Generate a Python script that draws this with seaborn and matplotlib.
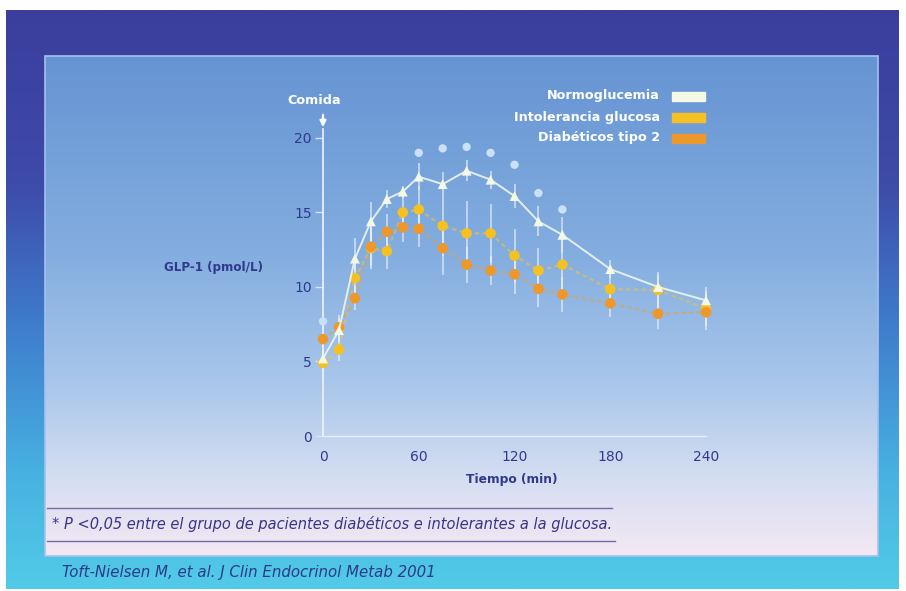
import numpy as np
import pandas as pd
import matplotlib
matplotlib.use("Agg")
import matplotlib.pyplot as plt
from matplotlib.colors import LinearSegmentedColormap
from matplotlib.patches import Rectangle
import seaborn as sns

# ---------------- data ----------------
time_min = [0, 10, 20, 30, 40, 50, 60, 75, 90, 105, 120, 135, 150, 180, 210, 240]
normo = [5.2, 7.1, 11.9, 14.4, 15.9, 16.4, 17.4, 16.9, 17.8, 17.2, 16.1, 14.4, 13.5, 11.2, 10.0, 9.1]
intol = [4.9, 5.8, 10.6, 12.6, 12.4, 15.0, 15.2, 14.1, 13.6, 13.6, 12.1, 11.1, 11.5, 9.85, 9.8, 8.55]
diab = [6.5, 7.3, 9.25, 12.7, 13.7, 14.0, 13.9, 12.6, 11.5, 11.1, 10.85, 9.87, 9.5, 8.9, 8.2, 8.3]
normo_err = [0.6, 0.8, 1.4, 1.3, 0.6, 0.4, 0.9, 0.8, 0.7, 0.6, 0.8, 1.0, 1.2, 0.6, 0.8, 0.9]
intol_err = [0.5, 0.8, 1.2, 1.4, 1.2, 1.3, 1.6, 2.0, 2.2, 2.0, 1.8, 1.5, 1.8, 1.2, 1.2, 1.2]
diab_err = [0.5, 0.8, 0.8, 1.3, 1.2, 1.0, 1.2, 1.8, 1.2, 1.0, 1.3, 1.2, 1.2, 0.9, 1.0, 1.2]
sig_time = [0, 60, 75, 90, 105, 120, 135, 150]
sig_val = [7.7, 19.0, 19.3, 19.4, 19.0, 18.2, 16.3, 15.2]

series_names = ["Normoglucemia", "Intolerancia glucosa", "Diabéticos tipo 2"]
x_ticks = [0, 60, 120, 180, 240]
y_ticks = [0, 5, 10, 15, 20]

df = pd.DataFrame({
    "t": time_min * 3,
    "v": normo + intol + diab,
    "e": normo_err + intol_err + diab_err,
    "grupo": [series_names[0]] * len(time_min) + [series_names[1]] * len(time_min)
             + [series_names[2]] * len(time_min),
})
sig_df = pd.DataFrame({"t": sig_time, "v": sig_val})

# ---------------- style ----------------
W, H = 906, 591
fig = plt.figure(figsize=(W / 100, H / 100), dpi=100)
fig.patch.set_facecolor("white")
plt.rcParams["font.family"] = ["DejaVu Sans"]

navy = "#2f3a8c"
col = {series_names[0]: "#f4f9e6", series_names[1]: "#f5c022", series_names[2]: "#ee982c"}

# background axes in pixel coordinates
bg = fig.add_axes([0, 0, 1, 1])
bg.set_xlim(0, W)
bg.set_ylim(H, 0)
bg.axis("off")

outer_cmap = LinearSegmentedColormap.from_list(
    "outer", [(0, "#3b3e9d"), (0.3, "#3d4ba9"), (0.55, "#3f7ecd"), (0.8, "#47b1e1"), (1, "#52cbe8")])
inner_cmap = LinearSegmentedColormap.from_list(
    "inner", [(0, "#6694d3"), (0.4, "#84aee0"), (0.65, "#a8c6ea"), (0.85, "#d6def2"), (1, "#f4e8f3")])
grad = np.linspace(0, 1, 256).reshape(-1, 1)
bg.imshow(grad, cmap=outer_cmap, extent=(6, 899, 589, 10), aspect="auto", origin="upper", zorder=0)
bg.imshow(grad, cmap=inner_cmap, extent=(45, 878, 556, 56), aspect="auto", origin="upper", zorder=1)
bg.add_patch(Rectangle((45, 56), 833, 500, fill=False, ec="#a8c0ec", lw=1.2, zorder=2))

# footnote lines & texts
bg.plot([47, 612], [508, 508], color="#6f6aa6", lw=1, zorder=3)
bg.plot([47, 615], [541, 541], color="#6f6aa6", lw=1, zorder=3)
bg.text(52, 524, "* P <0,05 entre el grupo de pacientes diabéticos e intolerantes a la glucosa.",
        ha="left", va="center", fontsize=10.5, style="italic", color="#3a3483", zorder=3)
bg.text(62, 572, "Toft-Nielsen M, et al. J Clin Endocrinol Metab 2001",
        ha="left", va="center", fontsize=10.8, style="italic", color="#2c3a88", zorder=3)

# axis labels
bg.text(213, 268, "GLP-1 (pmol/L)", ha="center", va="center", fontsize=8.6, color=navy,
        fontweight="bold", zorder=3)
bg.text(512, 480, "Tiempo (min)", ha="center", va="center", fontsize=8.8, color=navy,
        fontweight="bold", zorder=3)
bg.text(314, 100, "Comida", ha="center", va="center", fontsize=9.2, color="white",
        fontweight="bold", zorder=3)
bg.annotate("", xy=(323, 130), xytext=(323, 112),
            arrowprops=dict(arrowstyle="-|>", color="white", lw=1.6, mutation_scale=9), zorder=3)

# legend (manual)
leg_y = [96, 117, 138]
for name, yy in zip(series_names, leg_y):
    bg.text(660, yy, name, ha="right", va="center", fontsize=9.2, color="white",
            fontweight="bold", zorder=3)
    bg.add_patch(Rectangle((672, yy - 4.5), 33, 9, color=col[name], zorder=3))

# ---------------- main axes ----------------
ax = fig.add_axes([323 / W, (H - 436) / H, 383 / W, (436 - 129) / H])
ax.patch.set_alpha(0)
ax.set_xlim(0, 240)
ax.set_ylim(0, 20.6)

# error bars
for name in series_names[::-1]:
    d = df[df.grupo == name]
    ax.errorbar(d.t, d.v, yerr=d.e, fmt="none", ecolor="#eef4fb", elinewidth=1.1,
                alpha=0.75, capsize=0, zorder=4, clip_on=False)

# connecting lines
sns.lineplot(data=df[df.grupo == series_names[1]], x="t", y="v", ax=ax, color="#f3c340",
             lw=1.6, alpha=0.55, linestyle=(0, (2, 1.5)), zorder=5, legend=False)
sns.lineplot(data=df[df.grupo == series_names[2]], x="t", y="v", ax=ax, color="#ef9d3a",
             lw=1.6, alpha=0.55, linestyle=(0, (2, 1.5)), zorder=5, legend=False)
sns.lineplot(data=df[df.grupo == series_names[0]], x="t", y="v", ax=ax, color="#eef6ee",
             lw=1.4, alpha=0.9, zorder=8, legend=False)

# markers
sns.scatterplot(data=df[df.grupo == series_names[1]], x="t", y="v", ax=ax, color=col[series_names[1]],
                s=58, marker="o", edgecolor="none", zorder=6, legend=False, clip_on=False)
sns.scatterplot(data=df[df.grupo == series_names[2]], x="t", y="v", ax=ax, color=col[series_names[2]],
                s=58, marker="o", edgecolor="none", zorder=7, legend=False, clip_on=False)
sns.scatterplot(data=df[df.grupo == series_names[0]], x="t", y="v", ax=ax, color=col[series_names[0]],
                s=50, marker="^", edgecolor="none", zorder=9, legend=False, clip_on=False)
sns.scatterplot(data=sig_df, x="t", y="v", ax=ax, color="#c9e0f6", s=36, marker="o",
                edgecolor="none", zorder=9, legend=False, clip_on=False)

# spines & ticks
for s in ["top", "right"]:
    ax.spines[s].set_visible(False)
ax.spines["left"].set_color("#eef4fb")
ax.spines["left"].set_linewidth(1.2)
ax.spines["bottom"].set_color("#e6eef9")
ax.spines["bottom"].set_linewidth(1.0)
ax.set_xticks(x_ticks)
ax.set_xticklabels([str(v) for v in x_ticks])
ax.set_yticks(y_ticks)
ax.set_yticklabels([str(v) for v in y_ticks])
ax.tick_params(axis="x", length=0, pad=10, labelsize=10, labelcolor=navy)
ax.tick_params(axis="y", length=6, width=1, color="#d4e4f6", pad=2, labelsize=10, labelcolor=navy)
ax.set_xlabel("")
ax.set_ylabel("")

fig.savefig("out.png", dpi=100)
